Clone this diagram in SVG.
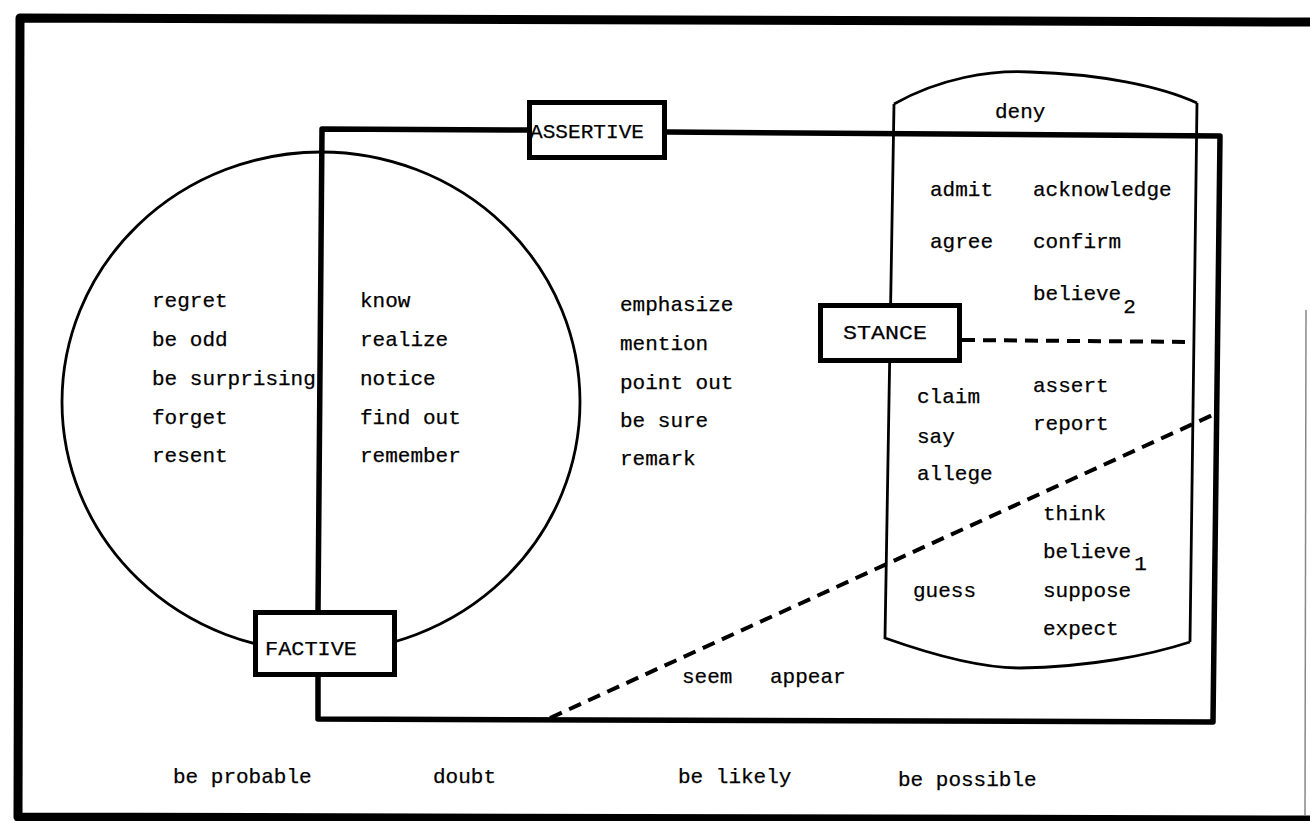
<svg xmlns="http://www.w3.org/2000/svg" width="1310" height="821" viewBox="0 0 1310 821">
<style>
text{font-family:"Liberation Mono","Courier New",monospace;font-size:21px;fill:#000;stroke:#000;stroke-width:0.25}
.box{fill:#fff;stroke:#000;stroke-width:5}
.thick{fill:none;stroke:#000;stroke-width:5.5;stroke-linejoin:round;stroke-linecap:round}
.thin{fill:none;stroke:#000;stroke-width:2.8}
.dash{fill:none;stroke:#000;stroke-width:4;stroke-dasharray:13 8}
</style>
<rect x="0" y="0" width="1310" height="821" fill="#fff"/>
<g id="frame">
<path d="M1310 22 L20 18 L18 817 L1310 820" fill="none" stroke="#000" stroke-width="9" stroke-linejoin="round"/>
<path d="M1306 310 L1305 815" fill="none" stroke="#888" stroke-width="1.5"/>
</g>
<g id="factive-circle">
<ellipse cx="321" cy="402" rx="259" ry="250" class="thin"/>
</g>
<g id="stance-cylinder">
<path class="thin" d="M894 104 C940 78 990 70 1030 72 C1100 74 1160 86 1197 103 M894 104 L885 638 C930 654 980 668 1020 668 C1090 667 1150 655 1190 642 M1197 103 L1190 642"/>
</g>
<g id="connectors">
<path class="thick" d="M318 612 L322 129 L529 130"/>
<path class="thick" d="M667 132 L1220 136 L1213 722 L318 719 L318 677"/>
<path class="dash" d="M962 340 L1195 342"/>
<path class="dash" d="M550 718 L1217 413"/>
</g>
<g id="assertive">
<rect class="box" x="529.5" y="102.5" width="135" height="55"/>
<text x="530" y="138" textLength="114" lengthAdjust="spacingAndGlyphs">ASSERTIVE</text>
</g>
<g id="stance">
<rect class="box" x="820.5" y="305.5" width="139" height="55"/>
<text x="843" y="339" textLength="84" lengthAdjust="spacingAndGlyphs">STANCE</text>
</g>
<g id="factive">
<rect class="box" x="255.5" y="612.5" width="139" height="62"/>
<text x="265" y="655" textLength="92" lengthAdjust="spacingAndGlyphs">FACTIVE</text>
</g>
<g id="words-left">
<text x="152" y="307">regret</text>
<text x="152" y="346">be odd</text>
<text x="152" y="385">be surprising</text>
<text x="152" y="424">forget</text>
<text x="152" y="462">resent</text>
</g>
<g id="words-middle">
<text x="360" y="307">know</text>
<text x="360" y="346">realize</text>
<text x="360" y="385">notice</text>
<text x="360" y="424">find out</text>
<text x="360" y="462">remember</text>
</g>
<g id="words-right">
<text x="620" y="311">emphasize</text>
<text x="620" y="350">mention</text>
<text x="620" y="389">point out</text>
<text x="620" y="427">be sure</text>
<text x="620" y="465">remark</text>
</g>
<g id="words-stance">
<text x="995" y="118">deny</text>
<text x="930" y="196">admit</text>
<text x="1033" y="196">acknowledge</text>
<text x="930" y="248">agree</text>
<text x="1033" y="248">confirm</text>
<text x="1033" y="300">believe<tspan dx="2" dy="13">2</tspan></text>
<text x="1033" y="392">assert</text>
<text x="917" y="403">claim</text>
<text x="1033" y="430">report</text>
<text x="917" y="443">say</text>
<text x="917" y="480">allege</text>
<text x="1043" y="520">think</text>
<text x="1043" y="558">believe<tspan dx="3" dy="12">1</tspan></text>
<text x="913" y="597">guess</text>
<text x="1043" y="597">suppose</text>
<text x="1043" y="635">expect</text>
</g>
<g id="words-outer">
<text x="682" y="683">seem</text>
<text x="770" y="683">appear</text>
<text x="173" y="783">be probable</text>
<text x="433" y="783">doubt</text>
<text x="678" y="783">be likely</text>
<text x="898" y="786">be possible</text>
</g>
</svg>
